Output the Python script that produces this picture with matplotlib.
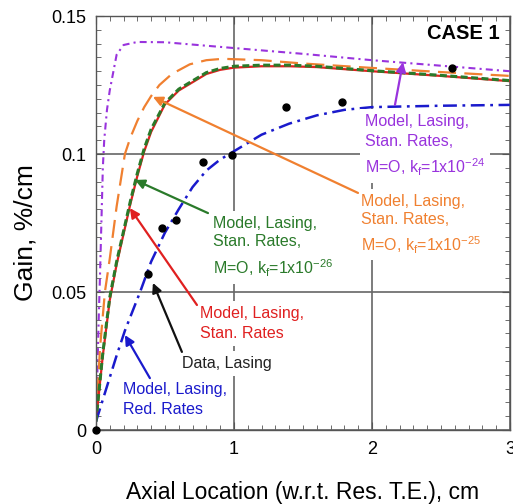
import matplotlib
matplotlib.use("Agg")
import matplotlib.pyplot as plt
import numpy as np
from matplotlib.ticker import MultipleLocator

plt.rcParams['font.family'] = ['Liberation Sans', 'DejaVu Sans']
plt.rcParams['mathtext.fontset'] = 'custom'
plt.rcParams['mathtext.rm'] = 'Liberation Sans'
plt.rcParams['mathtext.default'] = 'regular'
plt.rcParams['lines.scale_dashes'] = False

# ---- data ----
data_x = [0.0, 0.377, 0.478, 0.58, 0.776, 0.985, 1.377, 1.78, 2.58]
data_y = [0.0, 0.0565, 0.0732, 0.0761, 0.0971, 0.0996, 0.117, 0.119, 0.1312]

red_x = [0, 0.05, 0.1, 0.15, 0.2, 0.25, 0.3, 0.35, 0.4, 0.5, 0.6, 0.7, 0.8, 0.9, 1.0, 1.2, 1.4, 1.6, 2.0, 2.5, 3.0]
red_y = [0.003, 0.027, 0.047, 0.060, 0.071, 0.082, 0.092, 0.101, 0.108, 0.118, 0.123, 0.126, 0.129, 0.1305, 0.1313, 0.1318, 0.1318, 0.1315, 0.1300, 0.1283, 0.1264]

green_x = [0, 0.05, 0.1, 0.15, 0.2, 0.25, 0.3, 0.35, 0.4, 0.5, 0.6, 0.7, 0.8, 0.9, 1.0, 1.2, 1.4, 1.6, 2.0, 2.5, 3.0]
green_y = [0.003, 0.028, 0.048, 0.061, 0.072, 0.083, 0.093, 0.102, 0.109, 0.1185, 0.1235, 0.1265, 0.1295, 0.131, 0.1318, 0.1322, 0.1322, 0.1318, 0.1302, 0.1285, 0.1266]

orange_x = [0, 0.03, 0.065, 0.1, 0.15, 0.21, 0.25, 0.3, 0.35, 0.4, 0.46, 0.55, 0.68, 0.8, 0.92, 1.2, 1.5, 2.0, 2.5, 3.0]
orange_y = [0.003, 0.030, 0.050, 0.062, 0.081, 0.100, 0.106, 0.112, 0.117, 0.121, 0.125, 0.129, 0.1325, 0.134, 0.1345, 0.134, 0.1328, 0.1312, 0.1297, 0.1283]

purple_x = [0, 0.01, 0.02, 0.03, 0.04, 0.05, 0.06, 0.08, 0.1, 0.15, 0.2, 0.3, 0.5, 1.0, 1.5, 2.0, 2.5, 3.0]
purple_y = [0.002, 0.020, 0.040, 0.057, 0.076, 0.095, 0.105, 0.116, 0.123, 0.136, 0.1395, 0.1406, 0.1405, 0.1384, 0.1363, 0.134, 0.132, 0.130]

blue_x = [0, 0.05, 0.1, 0.15, 0.21, 0.32, 0.4, 0.5, 0.6, 0.7, 0.8, 0.9, 1.0, 1.2, 1.4, 1.6, 1.8, 2.0, 2.5, 3.0]
blue_y = [0.003, 0.011, 0.019, 0.027, 0.036, 0.050, 0.061, 0.0715, 0.080, 0.088, 0.094, 0.098, 0.101, 0.107, 0.111, 0.114, 0.116, 0.117, 0.1175, 0.1178]

x_ticks = [0, 1, 2, 3]
x_ticklabels = ['0', '1', '2', '3']
y_ticks = [0, 0.05, 0.1, 0.15]
y_ticklabels = ['0', '0.05', '0.1', '0.15']

PURPLE = '#9933dd'
ORANGE = '#f08030'
RED = '#e02020'
GREEN = '#2a7a2a'
BLUE = '#1a1acc'

fig = plt.figure(figsize=(5.13, 5.04), dpi=100)
ax = fig.add_axes([0.187, 0.1468, 0.807, 0.8214])

ax.plot(purple_x, purple_y, color=PURPLE, lw=1.5, ls=(0, (5, 3, 1.5, 3)), zorder=2)
ax.plot(orange_x, orange_y, color=ORANGE, lw=1.6, ls=(0, (13, 6)), zorder=2)
ax.plot(red_x, red_y, color=RED, lw=1.6, zorder=2)
ax.plot(green_x, green_y, color=GREEN, lw=2.2, ls=(0, (5, 2.5)), zorder=2.1)
ax.plot(blue_x, blue_y, color=BLUE, lw=1.8, ls=(0, (10, 4, 2, 4)), zorder=2)
ax.plot(data_x, data_y, 'o', color='black', ms=5, zorder=4, clip_on=False)

ax.set_xlim(0, 3)
ax.set_ylim(0, 0.15)
ax.set_xticks(x_ticks)
ax.set_xticklabels(x_ticklabels)
ax.set_yticks(y_ticks)
ax.set_yticklabels(y_ticklabels)
ax.xaxis.set_minor_locator(MultipleLocator(0.1))
ax.yaxis.set_minor_locator(MultipleLocator(0.005))
ax.tick_params(which='both', direction='in', top=True, right=True, color='#555555')
ax.tick_params(which='major', length=6, labelsize=13)
ax.tick_params(axis='x', which='major', pad=8)
ax.tick_params(axis='y', which='major', pad=7)
ax.tick_params(which='minor', length=3.5)
for s in ax.spines.values():
    s.set_color('#555555')
    s.set_linewidth(1.0)
ax.grid(True, which='major', color='#666666', lw=1.2, zorder=0)
ax.set_axisbelow(True)

fig.text(303 / 513, 5 / 504, 'Axial Location (w.r.t. Res. T.E.), cm', fontsize=16.5,
         ha='center', va='baseline')
fig.text(25 / 513, (504 - 233) / 504, 'Gain, %/cm', fontsize=19, rotation=90,
         ha='center', va='center')

ax.text(0.976, 0.959, 'CASE 1', transform=ax.transAxes, ha='right', va='center',
        fontsize=14.5, fontweight='bold')

fs = 11.5
bb = dict(facecolor='white', edgecolor='none', pad=3.5)


def label(x, ys, lines, c):
    for y, s in zip(ys, lines):
        ax.text(x, y, s, color='none', fontsize=fs, ha='left', va='baseline',
                bbox=bb, zorder=2.9)
    for y, s in zip(ys, lines):
        ax.text(x, y, s, color=c, fontsize=fs, ha='left', va='baseline', zorder=3.1)


def arrow(xy, xytext, c):
    ax.annotate('', xy=xy, xytext=xytext,
                arrowprops=dict(arrowstyle='-|>', color=c, lw=1.6,
                                mutation_scale=14, shrinkA=0, shrinkB=0), zorder=5)


label(1.949, [0.1101, 0.1029, 0.0931],
      ['Model, Lasing,', 'Stan. Rates,', 'M=O, k$_{f}$=1x10$^{-24}$'], PURPLE)
label(1.920, [0.0812, 0.0746, 0.0649],
      ['Model, Lasing,', 'Stan. Rates,', 'M=O, k$_{f}$=1x10$^{-25}$'], ORANGE)
label(0.848, [0.0732, 0.0667, 0.0565],
      ['Model, Lasing,', 'Stan. Rates,', 'M=O, k$_{f}$=1x10$^{-26}$'], GREEN)
label(0.754, [0.0406, 0.0333], ['Model, Lasing,', 'Stan. Rates'], RED)
label(0.623, [0.0225], ['Data, Lasing'], '#222222')
label(0.196, [0.0130, 0.0058], ['Model, Lasing,', 'Red. Rates'], BLUE)

arrow((2.225, 0.1333), (2.167, 0.1178), PURPLE)
arrow((0.413, 0.1207), (1.899, 0.0859), ORANGE)
arrow((0.283, 0.0906), (0.812, 0.0786), GREEN)
arrow((0.246, 0.0804), (0.732, 0.0453), RED)
arrow((0.413, 0.0533), (0.623, 0.0283), '#111111')
arrow((0.21, 0.0344), (0.391, 0.0188), BLUE)

fig.savefig('out.png', dpi=100)
